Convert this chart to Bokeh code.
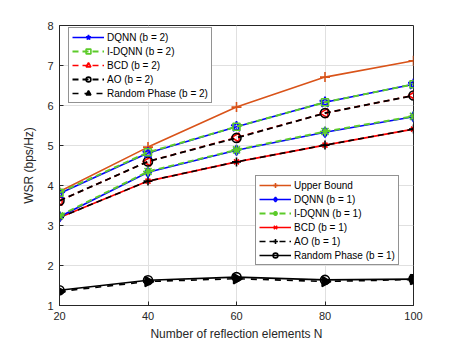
import math
from bokeh.plotting import figure
from bokeh.models import Legend, LegendItem, FixedTicker
from bokeh.embed import file_html
from bokeh.resources import INLINE

N = [20, 40, 60, 80, 100]
upper_bound = [3.85, 4.96, 5.96, 6.71, 7.12]
dqnn_b2 = [3.80, 4.81, 5.47, 6.08, 6.53]
idqnn_b2 = [3.82, 4.83, 5.47, 6.08, 6.53]
bcd_b2 = [3.62, 4.60, 5.20, 5.81, 6.25]
ao_b2 = [3.62, 4.60, 5.19, 5.81, 6.25]
rand_b2 = [1.35, 1.60, 1.67, 1.60, 1.65]
dqnn_b1 = [3.22, 4.33, 4.88, 5.33, 5.72]
idqnn_b1 = [3.24, 4.35, 4.89, 5.35, 5.73]
bcd_b1 = [3.20, 4.11, 4.59, 5.01, 5.41]
ao_b1 = [3.20, 4.11, 4.59, 5.01, 5.41]
rand_b1 = [1.38, 1.63, 1.71, 1.64, 1.66]

FONT = "Liberation Sans"
ORANGE = "#D95319"
BLUE = "#0000FF"
GREEN = "#5CCB2A"
RED = "#FF0000"
BLACK = "#000000"

p = figure(width=449, height=343, output_backend="svg", toolbar_location=None,
           x_range=(20, 100), y_range=(1, 8),
           min_border_left=59, min_border_right=36, min_border_top=25, min_border_bottom=38)
p.background_fill_color = "white"
p.border_fill_color = "white"
p.outline_line_color = "#262626"
p.outline_line_width = 1

for ax in (p.xaxis[0], p.yaxis[0]):
    ax.major_tick_in = 4
    ax.major_tick_out = 0
    ax.minor_tick_in = 0
    ax.minor_tick_out = 0
    ax.axis_line_color = "#262626"
    ax.major_tick_line_color = "#262626"
    ax.major_label_text_font = FONT
    ax.major_label_text_font_size = "11px"
    ax.major_label_text_color = "#262626"
    ax.major_label_standoff = 6
    ax.axis_label_text_font = FONT
    ax.axis_label_text_font_size = "12px"
    ax.axis_label_text_font_style = "normal"
    ax.axis_label_text_color = "#262626"
p.xaxis.ticker = FixedTicker(ticks=N)
p.yaxis.ticker = FixedTicker(ticks=[1, 2, 3, 4, 5, 6, 7, 8])
p.xaxis.axis_label = "Number of reflection elements N"
p.yaxis.axis_label = "WSR (bps/Hz)"
p.xaxis.axis_label_standoff = 4
p.yaxis.axis_label_standoff = 8
p.grid.grid_line_color = "#e0e0e0"
p.grid.grid_line_width = 1

def series(y, color, dash, marker, size, angle=0.0, fill=None, lw=1.6):
    r1 = p.line(N, y, line_color=color, line_width=lw, line_dash=dash)
    r2 = p.scatter(N, y, marker=marker, size=size, angle=angle,
                   line_color=color, line_width=1.6,
                   fill_color=fill if fill else None)
    return [r1, r2]

r_ub = series(upper_bound, ORANGE, "solid", "cross", 10)
r_rb1 = series(rand_b1, BLACK, "solid", "circle", 9)
r_bcd1 = series(bcd_b1, RED, "solid", "x", 7)
r_ao1 = series(ao_b1, BLACK, "6 4", "cross", 9)
r_dq1 = series(dqnn_b1, BLUE, "solid", "diamond", 10)
r_idq1 = series(idqnn_b1, GREEN, "6 4", "asterisk", 10, lw=2)
r_bcd2 = series(bcd_b2, RED, "6 4", "triangle", 9, angle=math.pi/2)
r_ao2 = series(ao_b2, BLACK, "6 4", "circle", 9, lw=1.8)
r_dq2 = series(dqnn_b2, BLUE, "solid", "star", 11)
r_idq2 = series(idqnn_b2, GREEN, "6 4", "square", 7, lw=2)
r_rb2 = series(rand_b2, BLACK, "dashed", "triangle", 10, angle=-math.pi/2, fill=BLACK)

def mk_legend(items, location):
    lg = Legend(items=[LegendItem(label=t, renderers=r) for t, r in items],
                location=location, orientation="vertical")
    lg.label_text_font = FONT
    lg.label_text_font_size = "10px"
    lg.label_text_color = "#000000"
    lg.label_standoff = 3
    lg.label_height = 12
    lg.glyph_height = 12
    lg.glyph_width = 32
    lg.spacing = 2
    lg.padding = 3
    lg.margin = 0
    lg.border_line_color = "#262626"
    lg.border_line_width = 1
    lg.background_fill_color = "white"
    lg.background_fill_alpha = 1.0
    return lg

leg1 = mk_legend([("DQNN (b = 2)", r_dq2), ("I-DQNN (b = 2)", r_idq2),
                  ("BCD (b = 2)", r_bcd2), ("AO (b = 2)", r_ao2),
                  ("Random Phase (b = 2)", r_rb2)], (9, 202))
leg2 = mk_legend([("Upper Bound", r_ub), ("DQNN (b = 1)", r_dq1),
                  ("I-DQNN (b = 1)", r_idq1), ("BCD (b = 1)", r_bcd1),
                  ("AO (b = 1)", r_ao1), ("Random Phase (b = 1)", r_rb1)], (196, 40))
p.add_layout(leg1, "center")
p.add_layout(leg2, "center")

open("out.html", "w").write(file_html(p, INLINE))
